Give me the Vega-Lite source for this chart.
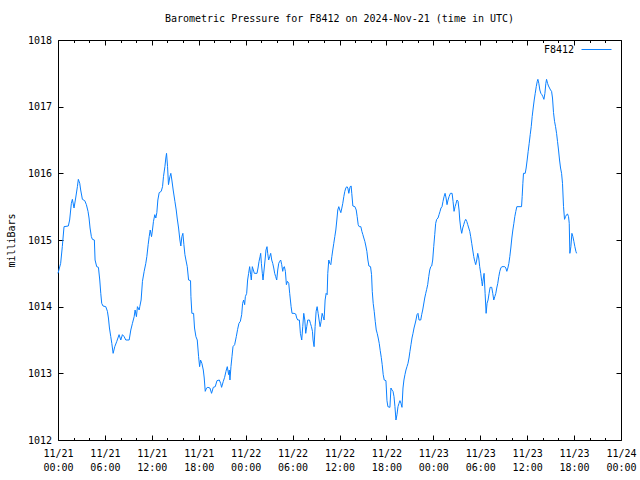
{
  "$schema": "https://vega.github.io/schema/vega-lite/v6.json",
  "width": 563,
  "height": 400,
  "autosize": {"type": "none"},
  "padding": {"left": 58, "top": 40, "right": 19, "bottom": 40},
  "background": "white",
  "title": {"text": "Barometric Pressure for F8412 on 2024-Nov-21 (time in UTC)", "font": "DejaVu Sans Mono", "fontSize": 10, "fontWeight": "normal", "color": "black", "offset": 2, "baseline": "alphabetic", "anchor": "middle"},
  "data": {"values": [
    {"h":0,"p":1014.5},{"h":0.34,"p":1014.65},{"h":0.55,"p":1014.9},{"h":0.77,"p":1015.2},{"h":1.32,"p":1015.21},{"h":1.49,"p":1015.3},{"h":1.71,"p":1015.55},{"h":1.84,"p":1015.61},{"h":2.05,"p":1015.48},{"h":2.26,"p":1015.63},{"h":2.48,"p":1015.8},{"h":2.6,"p":1015.91},{"h":2.78,"p":1015.85},{"h":2.9,"p":1015.75},{"h":3.12,"p":1015.61},{"h":3.42,"p":1015.59},{"h":3.63,"p":1015.53},{"h":3.84,"p":1015.43},{"h":3.97,"p":1015.33},{"h":4.1,"p":1015.18},{"h":4.27,"p":1015.05},{"h":4.4,"p":1015.01},{"h":4.65,"p":1015.0},{"h":4.74,"p":1014.7},{"h":4.95,"p":1014.6},{"h":5.17,"p":1014.59},{"h":5.34,"p":1014.4},{"h":5.47,"p":1014.2},{"h":5.59,"p":1014.05},{"h":5.76,"p":1014.01},{"h":6.11,"p":1014.0},{"h":6.32,"p":1013.93},{"h":6.45,"p":1013.83},{"h":6.58,"p":1013.68},{"h":6.75,"p":1013.55},{"h":6.88,"p":1013.45},{"h":7.05,"p":1013.3},{"h":7.26,"p":1013.4},{"h":7.52,"p":1013.48},{"h":7.81,"p":1013.58},{"h":8.03,"p":1013.5},{"h":8.24,"p":1013.58},{"h":8.46,"p":1013.55},{"h":8.67,"p":1013.5},{"h":9.1,"p":1013.5},{"h":9.31,"p":1013.65},{"h":9.52,"p":1013.75},{"h":9.74,"p":1013.85},{"h":9.86,"p":1013.95},{"h":10.03,"p":1013.85},{"h":10.16,"p":1014.0},{"h":10.38,"p":1013.95},{"h":10.46,"p":1014.0},{"h":10.63,"p":1014.1},{"h":10.8,"p":1014.38},{"h":11.02,"p":1014.53},{"h":11.23,"p":1014.65},{"h":11.36,"p":1014.75},{"h":11.53,"p":1014.93},{"h":11.66,"p":1015.05},{"h":11.79,"p":1015.15},{"h":11.96,"p":1015.05},{"h":12.08,"p":1015.15},{"h":12.21,"p":1015.28},{"h":12.38,"p":1015.38},{"h":12.51,"p":1015.33},{"h":12.64,"p":1015.41},{"h":12.77,"p":1015.6},{"h":12.94,"p":1015.71},{"h":13.2,"p":1015.73},{"h":13.37,"p":1015.8},{"h":13.49,"p":1015.95},{"h":13.67,"p":1016.1},{"h":13.79,"p":1016.23},{"h":13.88,"p":1016.3},{"h":14.01,"p":1016.1},{"h":14.13,"p":1015.83},{"h":14.31,"p":1015.95},{"h":14.43,"p":1016.0},{"h":14.56,"p":1015.9},{"h":14.73,"p":1015.75},{"h":14.95,"p":1015.58},{"h":15.12,"p":1015.45},{"h":15.24,"p":1015.33},{"h":15.42,"p":1015.18},{"h":15.59,"p":1015.0},{"h":15.71,"p":1014.91},{"h":15.84,"p":1015.05},{"h":15.97,"p":1015.1},{"h":16.1,"p":1014.93},{"h":16.23,"p":1014.78},{"h":16.36,"p":1014.7},{"h":16.53,"p":1014.6},{"h":16.7,"p":1014.4},{"h":16.95,"p":1014.39},
    {"h":17.0,"p":1014.15},{"h":17.12,"p":1013.9},{"h":17.34,"p":1013.9},{"h":17.46,"p":1013.68},{"h":17.64,"p":1013.55},{"h":17.81,"p":1013.5},{"h":17.98,"p":1013.25},{"h":18.11,"p":1013.1},{"h":18.23,"p":1013.2},{"h":18.4,"p":1013.15},{"h":18.58,"p":1013.05},{"h":18.7,"p":1012.93},{"h":18.83,"p":1012.73},{"h":19.0,"p":1012.78},{"h":19.17,"p":1012.79},{"h":19.43,"p":1012.78},{"h":19.64,"p":1012.7},{"h":19.86,"p":1012.79},{"h":20.11,"p":1012.8},{"h":20.33,"p":1012.89},{"h":20.63,"p":1012.9},{"h":20.8,"p":1012.85},{"h":20.92,"p":1012.79},{"h":21.14,"p":1012.88},{"h":21.31,"p":1012.94},{"h":21.48,"p":1013.03},{"h":21.65,"p":1013.1},{"h":21.82,"p":1012.98},{"h":21.91,"p":1013.05},{"h":21.99,"p":1012.9},{"h":22.12,"p":1013.1},{"h":22.25,"p":1013.25},{"h":22.38,"p":1013.4},{"h":22.59,"p":1013.43},{"h":22.8,"p":1013.55},{"h":22.97,"p":1013.66},{"h":23.14,"p":1013.75},{"h":23.32,"p":1013.78},{"h":23.49,"p":1013.88},{"h":23.61,"p":1014.05},{"h":23.74,"p":1014.1},{"h":23.87,"p":1014.03},{"h":23.96,"p":1014.15},{"h":24.13,"p":1014.2},{"h":24.25,"p":1014.4},{"h":24.38,"p":1014.5},{"h":24.51,"p":1014.6},{"h":24.64,"p":1014.48},{"h":24.72,"p":1014.4},{"h":24.85,"p":1014.6},{"h":24.98,"p":1014.55},{"h":25.11,"p":1014.5},{"h":25.45,"p":1014.5},{"h":25.58,"p":1014.58},{"h":25.71,"p":1014.68},{"h":25.84,"p":1014.75},{"h":25.92,"p":1014.8},{"h":26.01,"p":1014.65},{"h":26.13,"p":1014.5},{"h":26.22,"p":1014.4},{"h":26.35,"p":1014.55},{"h":26.48,"p":1014.7},{"h":26.6,"p":1014.85},{"h":26.73,"p":1014.9},{"h":26.82,"p":1014.8},{"h":26.94,"p":1014.7},{"h":27.07,"p":1014.75},{"h":27.2,"p":1014.8},{"h":27.33,"p":1014.7},{"h":27.46,"p":1014.65},{"h":27.59,"p":1014.58},{"h":27.71,"p":1014.5},{"h":27.84,"p":1014.45},{"h":27.97,"p":1014.4},{"h":28.1,"p":1014.55},{"h":28.23,"p":1014.65},{"h":28.35,"p":1014.68},{"h":28.48,"p":1014.7},{"h":28.61,"p":1014.63},{"h":28.74,"p":1014.53},{"h":28.82,"p":1014.58},{"h":28.95,"p":1014.6},{"h":29.08,"p":1014.53},{"h":29.21,"p":1014.33},{"h":29.34,"p":1014.38},{"h":29.51,"p":1014.35},{"h":29.63,"p":1014.2},{"h":29.81,"p":1014.0},{"h":29.93,"p":1013.9},{"h":30.19,"p":1013.9},{"h":30.4,"p":1013.89},{"h":30.53,"p":1013.83},{"h":30.66,"p":1013.8},{"h":30.87,"p":1013.8},{"h":31.0,"p":1013.6},{"h":31.17,"p":1013.5},{"h":31.3,"p":1013.7},{"h":31.43,"p":1013.9},{"h":31.56,"p":1013.8},{"h":31.68,"p":1013.6},{"h":31.81,"p":1013.7},{"h":31.94,"p":1013.8},{"h":32.16,"p":1013.8},{"h":32.28,"p":1013.75},{"h":32.41,"p":1013.7},{"h":32.54,"p":1013.63},{"h":32.62,"p":1013.5},{"h":32.75,"p":1013.4},{"h":32.88,"p":1013.7},{"h":33.01,"p":1013.93},{"h":33.14,"p":1014.0},{"h":33.27,"p":1013.9},{"h":33.39,"p":1013.8},{"h":33.52,"p":1013.7},{"h":33.65,"p":1013.78},{"h":33.78,"p":1013.9},{"h":33.91,"p":1013.85},{"h":34.03,"p":1013.8},{"h":34.16,"p":1014.1},{"h":34.29,"p":1014.2},{"h":34.42,"p":1014.18},{"h":34.5,"p":1014.5},{"h":34.63,"p":1014.7},{"h":34.76,"p":1014.65},{"h":34.89,"p":1014.63},{"h":35.02,"p":1014.75},{"h":35.14,"p":1014.85},{"h":35.27,"p":1014.95},{"h":35.4,"p":1015.05},{"h":35.53,"p":1015.15},{"h":35.66,"p":1015.3},{"h":35.78,"p":1015.45},{"h":35.91,"p":1015.5},{"h":36.04,"p":1015.45},{"h":36.17,"p":1015.41},{"h":36.3,"p":1015.48},{"h":36.42,"p":1015.55},{"h":36.55,"p":1015.65},{"h":36.68,"p":1015.73},{"h":36.81,"p":1015.78},{"h":36.94,"p":1015.8},{"h":37.07,"p":1015.78},{"h":37.19,"p":1015.7},{"h":37.36,"p":1015.8},{"h":37.49,"p":1015.81},{"h":37.57,"p":1015.7},{"h":37.71,"p":1015.51},
    {"h":37.97,"p":1015.5},{"h":38.14,"p":1015.45},{"h":38.26,"p":1015.35},{"h":38.39,"p":1015.23},{"h":38.52,"p":1015.2},{"h":38.73,"p":1015.2},{"h":38.86,"p":1015.13},{"h":38.99,"p":1015.08},{"h":39.11,"p":1015.03},{"h":39.24,"p":1014.98},{"h":39.37,"p":1014.91},{"h":39.5,"p":1014.83},{"h":39.63,"p":1014.7},{"h":39.76,"p":1014.61},{"h":39.97,"p":1014.6},{"h":40.1,"p":1014.48},{"h":40.19,"p":1014.23},{"h":40.31,"p":1014.05},{"h":40.44,"p":1013.93},{"h":40.57,"p":1013.78},{"h":40.7,"p":1013.65},{"h":40.82,"p":1013.6},{"h":40.95,"p":1013.53},{"h":41.08,"p":1013.45},{"h":41.21,"p":1013.34},{"h":41.34,"p":1013.24},{"h":41.46,"p":1013.13},{"h":41.59,"p":1012.98},{"h":41.72,"p":1012.9},{"h":41.94,"p":1012.89},{"h":42.07,"p":1012.59},{"h":42.19,"p":1012.5},{"h":42.45,"p":1012.49},{"h":42.58,"p":1012.78},{"h":42.71,"p":1012.75},{"h":42.84,"p":1012.73},{"h":42.97,"p":1012.65},{"h":43.09,"p":1012.5},{"h":43.22,"p":1012.3},{"h":43.35,"p":1012.38},{"h":43.48,"p":1012.5},{"h":43.61,"p":1012.55},{"h":43.73,"p":1012.59},{"h":43.86,"p":1012.55},{"h":43.99,"p":1012.49},{"h":44.12,"p":1012.78},{"h":44.24,"p":1012.9},{"h":44.37,"p":1012.98},{"h":44.5,"p":1013.05},{"h":44.63,"p":1013.1},{"h":44.76,"p":1013.15},{"h":44.89,"p":1013.23},{"h":45.01,"p":1013.33},{"h":45.14,"p":1013.43},{"h":45.27,"p":1013.53},{"h":45.4,"p":1013.6},{"h":45.53,"p":1013.68},{"h":45.66,"p":1013.74},{"h":45.78,"p":1013.8},{"h":45.91,"p":1013.88},{"h":46.04,"p":1013.9},{"h":46.17,"p":1013.8},{"h":46.39,"p":1013.8},{"h":46.51,"p":1013.88},{"h":46.64,"p":1013.95},{"h":46.77,"p":1014.04},{"h":46.9,"p":1014.13},{"h":47.03,"p":1014.2},{"h":47.15,"p":1014.26},{"h":47.28,"p":1014.33},{"h":47.41,"p":1014.45},{"h":47.54,"p":1014.55},{"h":47.67,"p":1014.6},{"h":47.79,"p":1014.61},{"h":47.92,"p":1014.7},{"h":48.05,"p":1014.9},{"h":48.18,"p":1015.08},{"h":48.3,"p":1015.25},{"h":48.43,"p":1015.31},{"h":48.6,"p":1015.33},{"h":48.73,"p":1015.38},{"h":48.86,"p":1015.43},{"h":48.98,"p":1015.48},{"h":49.11,"p":1015.5},{"h":49.24,"p":1015.58},{"h":49.37,"p":1015.65},{"h":49.5,"p":1015.7},{"h":49.63,"p":1015.63},{"h":49.75,"p":1015.53},{"h":49.88,"p":1015.6},{"h":50.01,"p":1015.65},{"h":50.18,"p":1015.7},{"h":50.4,"p":1015.7},{"h":50.52,"p":1015.58},{"h":50.65,"p":1015.43},{"h":50.78,"p":1015.5},{"h":50.91,"p":1015.55},{"h":51.03,"p":1015.6},{"h":51.16,"p":1015.58},{"h":51.29,"p":1015.45},{"h":51.38,"p":1015.3},
    {"h":51.5,"p":1015.18},{"h":51.63,"p":1015.1},{"h":51.76,"p":1015.18},{"h":51.89,"p":1015.23},{"h":52.01,"p":1015.28},{"h":52.14,"p":1015.31},{"h":52.27,"p":1015.28},{"h":52.4,"p":1015.23},{"h":52.53,"p":1015.18},{"h":52.66,"p":1015.13},{"h":52.78,"p":1015.05},{"h":52.91,"p":1014.95},{"h":53.04,"p":1014.85},{"h":53.17,"p":1014.75},{"h":53.3,"p":1014.68},{"h":53.42,"p":1014.63},{"h":53.55,"p":1014.7},{"h":53.68,"p":1014.8},{"h":53.81,"p":1014.73},{"h":53.93,"p":1014.6},{"h":54.06,"p":1014.5},{"h":54.19,"p":1014.38},{"h":54.27,"p":1014.31},{"h":54.36,"p":1014.4},{"h":54.49,"p":1014.5},{"h":54.62,"p":1014.2},{"h":54.75,"p":1013.9},{"h":54.87,"p":1014.05},{"h":55.0,"p":1014.1},{"h":55.13,"p":1014.2},{"h":55.26,"p":1014.29},{"h":55.47,"p":1014.29},{"h":55.6,"p":1014.2},{"h":55.73,"p":1014.1},{"h":55.86,"p":1014.15},{"h":55.99,"p":1014.2},{"h":56.11,"p":1014.28},{"h":56.24,"p":1014.35},{"h":56.37,"p":1014.45},{"h":56.5,"p":1014.53},{"h":56.63,"p":1014.58},{"h":56.76,"p":1014.6},{"h":57.14,"p":1014.6},{"h":57.27,"p":1014.58},{"h":57.4,"p":1014.53},{"h":57.53,"p":1014.58},{"h":57.66,"p":1014.65},{"h":57.78,"p":1014.75},{"h":57.91,"p":1014.88},{"h":58.04,"p":1015.03},{"h":58.17,"p":1015.15},{"h":58.3,"p":1015.25},{"h":58.42,"p":1015.35},{"h":58.55,"p":1015.43},{"h":58.68,"p":1015.5},{"h":59.28,"p":1015.5},{"h":59.36,"p":1015.65},{"h":59.45,"p":1015.85},{"h":59.53,"p":1016.0},{"h":59.75,"p":1016.0},{"h":59.87,"p":1016.08},{"h":60.0,"p":1016.2},{"h":60.13,"p":1016.33},{"h":60.26,"p":1016.45},{"h":60.39,"p":1016.58},{"h":60.52,"p":1016.7},{"h":60.64,"p":1016.85},{"h":60.77,"p":1016.98},{"h":60.9,"p":1017.1},{"h":61.03,"p":1017.2},{"h":61.16,"p":1017.3},{"h":61.29,"p":1017.38},{"h":61.37,"p":1017.41},{"h":61.49,"p":1017.35},{"h":61.62,"p":1017.25},{"h":61.75,"p":1017.2},{"h":61.88,"p":1017.18},{"h":62.01,"p":1017.15},{"h":62.14,"p":1017.11},{"h":62.27,"p":1017.2},{"h":62.39,"p":1017.35},{"h":62.48,"p":1017.41},{"h":62.61,"p":1017.35},{"h":62.73,"p":1017.31},{"h":62.86,"p":1017.28},{"h":62.99,"p":1017.25},{"h":63.12,"p":1017.23},{"h":63.24,"p":1017.13},{"h":63.37,"p":1016.91},{"h":63.5,"p":1016.78},{"h":63.63,"p":1016.7},{"h":63.76,"p":1016.6},{"h":63.88,"p":1016.48},{"h":64.01,"p":1016.35},{"h":64.14,"p":1016.2},{"h":64.27,"p":1016.08},{"h":64.4,"p":1016.0},{"h":64.52,"p":1015.85},{"h":64.65,"p":1015.5},{"h":64.78,"p":1015.31},{"h":64.91,"p":1015.35},{"h":65.04,"p":1015.38},{"h":65.16,"p":1015.39},{"h":65.29,"p":1015.35},{"h":65.38,"p":1015.25},{"h":65.46,"p":1014.8},{"h":65.59,"p":1014.9},{"h":65.72,"p":1015.1},{"h":65.85,"p":1015.05},{"h":65.97,"p":1014.98},{"h":66.1,"p":1014.9},{"h":66.23,"p":1014.83},{"h":66.32,"p":1014.8}
  ]},
  "config": {
    "view": {"stroke": "black", "strokeWidth": 1},
    "font": "DejaVu Sans Mono",
    "axis": {"domain": false, "grid": false, "tickColor": "black", "tickWidth": 1, "labelColor": "black", "labelFont": "DejaVu Sans Mono", "labelFontSize": 10, "titleFont": "DejaVu Sans Mono", "titleFontSize": 10, "titleFontWeight": "normal", "titleColor": "black"}
  },
  "layer": [
    {
      "mark": {"type": "line", "strokeWidth": 1, "interpolate": "linear"},
      "encoding": {
        "x": {"field": "h", "type": "quantitative", "scale": {"domain": [0, 72], "nice": false, "zero": false},
          "axis": {"orient": "bottom", "title": null, "values": [0,2,4,6,8,10,12,14,16,18,20,22,24,26,28,30,32,34,36,38,40,42,44,46,48,50,52,54,56,58,60,62,64,66,68,70,72],
            "tickSize": {"condition": {"test": "datum.value % 6 == 0", "value": -5}, "value": -2.5},
            "labelPadding": 13, "labelBaseline": "top", "labelAlign": "center", "labelLineHeight": 14, "labelOverlap": false, "labelFlush": false, "labelBound": false,
            "labelExpr": "datum.value % 6 == 0 ? ['11/' + (21 + floor(datum.value / 24)), (datum.value % 24 < 10 ? '0' : '') + (datum.value % 24) + ':00'] : ''"}},
        "y": {"field": "p", "type": "quantitative", "scale": {"domain": [1012, 1018], "nice": false, "zero": false},
          "axis": {"orient": "left", "title": "milliBars", "values": [1012,1013,1014,1015,1016,1017,1018], "format": "d", "tickSize": -5, "labelPadding": 11.5, "labelOverlap": false, "labelFlush": false,
            "titleAngle": -90, "titleX": -47, "titleY": 200, "titleAlign": "center", "titleBaseline": "middle"}},
        "color": {"datum": "F8412", "type": "nominal", "scale": {"range": ["#0a80ff"]},
          "legend": {"title": null, "orient": "none", "legendX": 523, "legendY": -6, "symbolType": "stroke", "symbolSize": 900, "symbolStrokeWidth": 1, "labelFont": "DejaVu Sans Mono", "labelFontSize": 10, "labelColor": "black", "labelAlign": "right", "labelOffset": -38, "padding": 0}}
      }
    },
    {
      "mark": {"type": "line", "opacity": 0},
      "encoding": {
        "x": {"field": "h", "type": "quantitative",
          "axis": {"orient": "top", "title": null, "labels": false, "values": [0,2,4,6,8,10,12,14,16,18,20,22,24,26,28,30,32,34,36,38,40,42,44,46,48,50,52,54,56,58,60,62,64,66,68,70,72],
            "tickSize": {"condition": {"test": "datum.value % 6 == 0", "value": -5}, "value": -2.5}}},
        "y": {"field": "p", "type": "quantitative",
          "axis": {"orient": "right", "title": null, "labels": false, "values": [1012,1013,1014,1015,1016,1017,1018], "tickSize": -5}}
      }
    }
  ],
  "resolve": {"axis": {"x": "independent", "y": "independent"}}
}
